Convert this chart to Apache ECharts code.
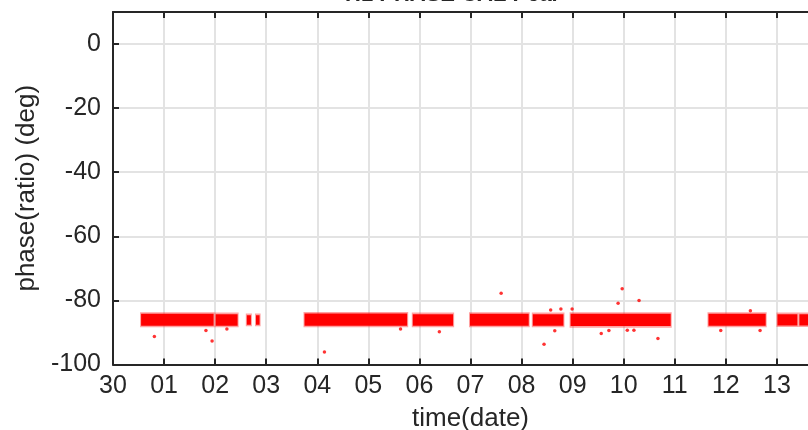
<!DOCTYPE html>
<html>
<head>
<meta charset="utf-8">
<script src="https://cdn.jsdelivr.net/npm/echarts@6/dist/echarts.min.js"></script>
<style>
  html, body { margin: 0; padding: 0; background: #fff; }
  #chart { width: 808px; height: 430px; }
</style>
</head>
<body>
<div id="chart"></div>
<script>
// day 0 = the "30" tick, one unit per day
var dayLabels = ['30', '01', '02', '03', '04', '05', '06', '07', '08', '09', '10', '11', '12', '13', '14'];

// dense measurement runs: [startDay, endDay, top of core (deg), bottom of core (deg)]
var runs = [
  [0.55, 1.97, -84.2, -87.9],
  [2.01, 2.44, -84.3, -87.9],
  [2.62, 2.70, -84.6, -87.6],
  [2.80, 2.87, -84.6, -87.6],
  [3.75, 5.76, -84.1, -87.9],
  [5.87, 6.66, -84.3, -87.9],
  [6.99, 8.14, -84.2, -87.9],
  [8.22, 8.82, -84.3, -87.9],
  [8.96, 10.92, -84.2, -88.0],
  [11.66, 12.78, -84.2, -87.9],
  [13.01, 13.40, -84.3, -87.8],
  [13.44, 13.80, -84.3, -87.8]
];

// isolated points outside the runs: [day, deg]
var outliers = [
  [0.81, -91.3], [1.82, -89.4], [1.94, -92.7], [2.23, -88.9],
  [4.14, -96.1], [5.63, -88.9], [6.39, -89.8], [7.60, -77.8],
  [8.44, -93.7], [8.57, -83.0], [8.65, -89.5], [8.77, -82.7],
  [8.99, -82.7], [9.56, -90.3], [9.71, -89.4], [9.89, -80.9],
  [9.97, -76.4], [10.07, -89.3], [10.20, -89.3], [10.30, -80.0],
  [10.67, -91.9], [11.90, -89.4], [12.48, -83.2], [12.67, -89.4]
];

var chart = echarts.init(document.getElementById('chart'));
var ink = '#262626';
var font = 'Liberation Sans, Arial, Helvetica, sans-serif';

function axisBase() {
  return {
    axisLine: { onZero: false, lineStyle: { color: ink, width: 2 } },
    axisTick: { inside: true, length: 6, lineStyle: { color: ink, width: 2 } }
  };
}

var option = {
  animation: false,
  title: {
    text: 'H1 PHASE CAL Pcal',
    left: 340,
    top: -21,
    textStyle: { fontFamily: font, fontSize: 22, fontWeight: 'bold', color: ink }
  },
  grid: { left: 113, top: 12, width: 715, height: 352.5, outerBoundsMode: 'none', containLabel: false },
  xAxis: [
    Object.assign(axisBase(), {
      type: 'value', min: 0, max: 14, interval: 1,
      name: 'time(date)', nameLocation: 'middle', nameGap: 41,
      nameTextStyle: { fontFamily: font, fontSize: 26, color: ink },
      axisLabel: {
        fontFamily: font, fontSize: 25, color: ink, margin: 9,
        formatter: function (v) { return dayLabels[v]; }
      },
      splitLine: { show: true, lineStyle: { color: '#e3e3e3', width: 2 } }
    }),
    Object.assign(axisBase(), {
      type: 'value', min: 0, max: 14, interval: 1, position: 'top',
      axisLabel: { show: false }, splitLine: { show: false }
    })
  ],
  yAxis: [
    Object.assign(axisBase(), {
      type: 'value', min: -100, max: 10, interval: 20,
      name: 'phase(ratio) (deg)', nameLocation: 'middle', nameGap: 70,
      nameTextStyle: { fontFamily: font, fontSize: 26, color: ink },
      axisLabel: {
        fontFamily: font, fontSize: 25, color: ink, margin: 12,
        showMaxLabel: false
      },
      splitLine: { show: true, lineStyle: { color: '#e3e3e3', width: 2 } }
    }),
    Object.assign(axisBase(), {
      type: 'value', min: -100, max: 10, interval: 20, position: 'right',
      axisLabel: { show: false }, splitLine: { show: false }
    })
  ],
  series: [
    {
      type: 'custom',
      clip: true,
      data: runs,
      encode: { x: [0, 1], y: [2, 3] },
      renderItem: function (params, api) {
        var a = api.coord([api.value(0), api.value(2)]);
        var b = api.coord([api.value(1), api.value(3)]);
        var fa = api.coord([api.value(0), api.value(2) + 0.5]);
        var fb = api.coord([api.value(1), api.value(3) - 0.5]);
        return {
          type: 'group',
          children: [
            {
              type: 'rect',
              shape: { x: fa[0] - 1, y: fa[1], width: fb[0] - fa[0] + 2, height: fb[1] - fa[1] },
              style: { fill: '#ff3030', opacity: 0.45 }
            },
            {
              type: 'rect',
              shape: { x: a[0], y: a[1], width: b[0] - a[0], height: b[1] - a[1] },
              style: { fill: '#ff0000' }
            }
          ]
        };
      }
    },
    {
      type: 'scatter',
      data: outliers,
      symbolSize: 3.5,
      itemStyle: { color: '#ff0000' }
    }
  ]
};

chart.setOption(option);
</script>
</body>
</html>
